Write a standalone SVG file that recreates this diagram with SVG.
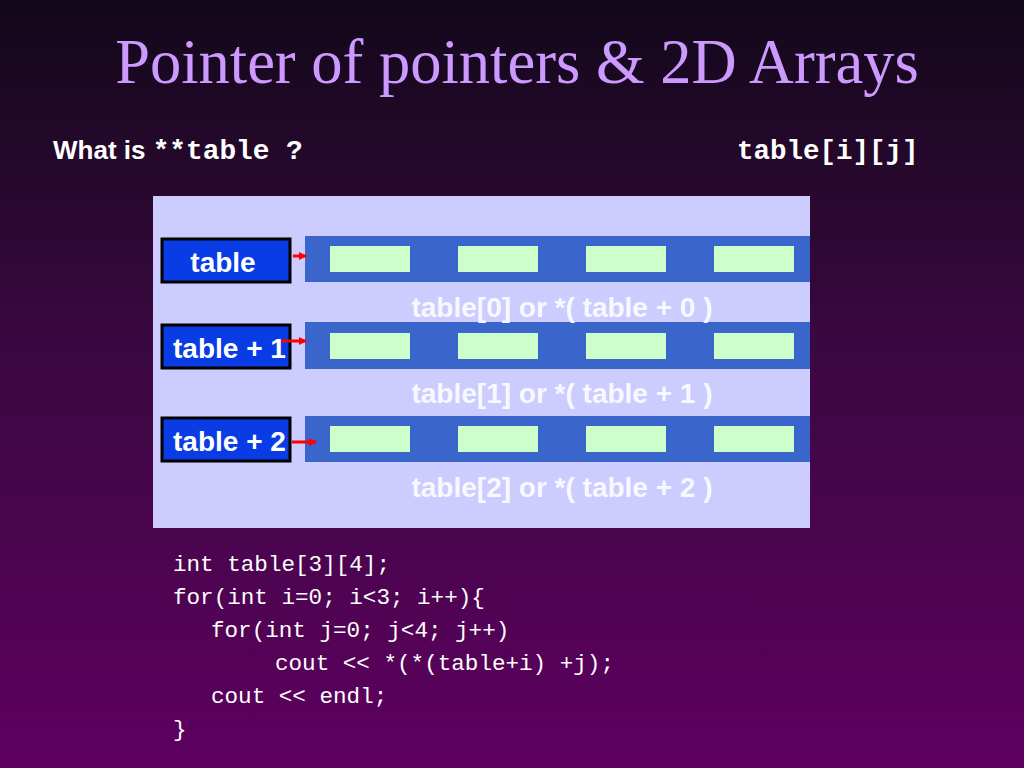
<svg xmlns="http://www.w3.org/2000/svg" width="1024" height="768" viewBox="0 0 1024 768">
<defs>
<linearGradient id="bg" x1="0" y1="0" x2="0" y2="1">
<stop offset="0" stop-color="#12081a"/><stop offset="0.45" stop-color="#3a0840"/><stop offset="1" stop-color="#5e0060"/>
</linearGradient>
<marker id="ah" markerWidth="8" markerHeight="8" refX="7" refY="4" orient="auto" markerUnits="userSpaceOnUse"><path d="M0,0 L8,4 L0,8 Z" fill="#ff0000"/></marker>
</defs>
<style>
.ptr{fill:#0a3ce6;stroke:#000;stroke-width:3}
.row{fill:#3a66cc}
.cell{fill:#ccffcc}
.pl{font-family:"Liberation Sans",Arial,sans-serif;font-weight:bold;font-size:28px;fill:#fff}
.cap{font-family:"Liberation Sans",Arial,sans-serif;font-weight:bold;font-size:28px;fill:#f8f8ff}
.code{font-family:"Liberation Mono","Courier New",monospace;font-size:22.6px;fill:#fff}
.arr{stroke:#ff0000;stroke-width:3;marker-end:url(#ah)}
</style>
<rect width="1024" height="768" fill="url(#bg)"/>
<text x="517" y="83" text-anchor="middle" font-family="Liberation Serif,'Times New Roman',serif" font-size="62.5" fill="#cc99ff">Pointer of pointers &amp; 2D Arrays</text>
<text x="53" y="159" font-family="Liberation Sans,Arial,sans-serif" font-weight="bold" font-size="26" fill="#fff">What is <tspan font-family="Liberation Mono,'Courier New',monospace" font-size="27.8">**table ?</tspan></text>
<text x="737" y="159" font-family="Liberation Mono,'Courier New',monospace" font-weight="bold" font-size="27.5" fill="#fff">table[i][j]</text>
<rect x="153" y="196" width="657" height="332" fill="#ccccff"/>
<g id="row0"><rect class="row" x="305" y="236" width="505" height="46"/>
<rect class="cell" x="330" y="246" width="80" height="26"/><rect class="cell" x="458" y="246" width="80" height="26"/><rect class="cell" x="586" y="246" width="80" height="26"/><rect class="cell" x="714" y="246" width="80" height="26"/></g>
<g id="row1"><rect class="row" x="305" y="322" width="505" height="47"/>
<rect class="cell" x="330" y="333" width="80" height="26"/><rect class="cell" x="458" y="333" width="80" height="26"/><rect class="cell" x="586" y="333" width="80" height="26"/><rect class="cell" x="714" y="333" width="80" height="26"/></g>
<g id="row2"><rect class="row" x="305" y="416" width="505" height="46"/>
<rect class="cell" x="330" y="426" width="80" height="26"/><rect class="cell" x="458" y="426" width="80" height="26"/><rect class="cell" x="586" y="426" width="80" height="26"/><rect class="cell" x="714" y="426" width="80" height="26"/></g>
<text class="cap" x="562" y="317" text-anchor="middle">table[0] or *( table + 0 )</text>
<text class="cap" x="562" y="403" text-anchor="middle">table[1] or *( table + 1 )</text>
<text class="cap" x="562" y="497" text-anchor="middle">table[2] or *( table + 2 )</text>
<g id="p0"><rect class="ptr" x="162" y="239" width="128" height="43"/><text class="pl" x="223" y="272" text-anchor="middle">table</text></g>
<g id="p1"><rect class="ptr" x="162" y="325" width="128" height="43"/><text class="pl" x="173" y="358">table + 1</text></g>
<g id="p2"><rect class="ptr" x="162" y="418" width="128" height="43"/><text class="pl" x="173" y="451">table + 2</text></g>
<g id="connectors">
<line class="arr" x1="293" y1="256" x2="306" y2="256"/>
<line class="arr" x1="282" y1="341" x2="306" y2="341"/>
<line class="arr" x1="292" y1="442" x2="316" y2="442"/>
</g>
<g class="code">
<text x="173" y="571">int table[3][4];</text>
<text x="173" y="604">for(int i=0; i&lt;3; i++){</text>
<text x="211" y="637">for(int j=0; j&lt;4; j++)</text>
<text x="275" y="670">cout &lt;&lt; *(*(table+i) +j);</text>
<text x="211" y="703">cout &lt;&lt; endl;</text>
<text x="173" y="736">}</text>
</g>
</svg>
